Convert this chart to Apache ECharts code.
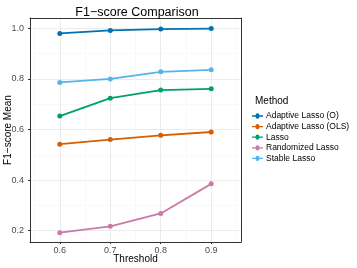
<!DOCTYPE html>
<html><head><meta charset="utf-8">
<script src="https://cdn.jsdelivr.net/npm/echarts@6/dist/echarts.min.js"></script>
<style>html,body{margin:0;padding:0;background:#fff}#c{width:357px;height:268px}</style>
</head><body><div id="c"></div>
<script>
const thresholds = [0.6, 0.7, 0.8, 0.9];
const methods = ["Adaptive Lasso (O)", "Adaptive Lasso (OLS)", "Lasso", "Randomized Lasso", "Stable Lasso"];
const adaptiveO = [0.980, 0.992, 0.997, 0.999];
const adaptiveOLS = [0.542, 0.560, 0.577, 0.590];
const lasso = [0.653, 0.724, 0.756, 0.761];
const randomized = [0.192, 0.217, 0.268, 0.385];
const stable = [0.786, 0.800, 0.828, 0.836];
const xTicks = [0.6, 0.7, 0.8, 0.9];
const xMinor = [0.55, 0.65, 0.75, 0.85, 0.95];
const yTicks = [0.2, 0.4, 0.6, 0.8, 1.0];
const yMinor = [0.3, 0.5, 0.7, 0.9];

const colors = ["#0072B2", "#D55E00", "#009E73", "#CC79A7", "#56B4E9"];
const seriesValues = [adaptiveO, adaptiveOLS, lasso, randomized, stable];
const font = "'Liberation Sans', Arial, sans-serif";

const chart = echarts.init(document.getElementById('c'), null, {renderer: 'canvas'});
const xr = [0.541, 0.959], yr = [0.155, 1.041];
const gridLine = {show: true, lineStyle: {color: '#ebebeb', width: 1}};
const minorLine = {show: true, lineStyle: {color: '#f5f5f5', width: 0.6}};
const keyIcon = 'path://M0,4.4H3.2A1.8,1.8 0 0 1 6.8,4.4H10V5.6H6.8A1.8,1.8 0 0 1 3.2,5.6H0Z';
chart.setOption({
  animation: false,
  color: colors,
  title: [
    {text: 'F1\u2212score Comparison', left: 132, textAlign: 'center', top: 1,
     textStyle: {fontFamily: font, fontSize: 12.5, fontWeight: 'normal', color: '#000'}},
    {text: 'Method', left: 250, top: 91,
     textStyle: {fontFamily: font, fontSize: 10, fontWeight: 'normal', color: '#000'}}
  ],
  legend: {
    orient: 'vertical', left: 247, top: 106, padding: 5, itemWidth: 11, itemHeight: 5.3, itemGap: 0.6,
    icon: keyIcon,
    textStyle: {fontFamily: font, fontSize: 8.5, lineHeight: 10, color: '#000', padding: [0,0,0,-2]},
    data: methods
  },
  grid: {left: 30, right: 116, top: 18, bottom: 26, show: false, containLabel: false, outerBoundsMode: 'none'},
  xAxis: [
    {type: 'value', min: xr[0], max: xr[1], gridIndex: 0,
     name: 'Threshold', nameLocation: 'middle', nameGap: 12, nameMoveOverlap: false,
     nameTextStyle: {fontFamily: font, fontSize: 10, color: '#000'},
     axisLine: {show: true, onZero: false, lineStyle: {color: '#333', width: 1}},
     axisTick: {show: true, length: 2, customValues: xTicks, lineStyle: {color: '#333'}},
     axisLabel: {customValues: xTicks, fontFamily: font, fontSize: 9, color: '#4d4d4d', margin: 4,
                 formatter: v => v.toFixed(1)},
     splitLine: gridLine},
    {type: 'value', min: xr[0], max: xr[1], position: 'top',
     axisLine: {show: true, onZero: false, lineStyle: {color: '#333', width: 1}},
     axisTick: {show: false, customValues: xMinor},
     axisLabel: {show: false, customValues: xMinor},
     splitLine: minorLine}
  ],
  yAxis: [
    {type: 'value', min: yr[0], max: yr[1],
     name: 'F1\u2212score Mean', nameLocation: 'middle', nameGap: 17, nameMoveOverlap: false,
     nameTextStyle: {fontFamily: font, fontSize: 10, color: '#000'},
     axisLine: {show: true, onZero: false, lineStyle: {color: '#333', width: 1}},
     axisTick: {show: true, length: 2, customValues: yTicks, lineStyle: {color: '#333'}},
     axisLabel: {customValues: yTicks, fontFamily: font, fontSize: 9, color: '#4d4d4d', margin: 6,
                 formatter: v => v.toFixed(1)},
     splitLine: gridLine},
    {type: 'value', min: yr[0], max: yr[1], position: 'right',
     axisLine: {show: true, onZero: false, lineStyle: {color: '#333', width: 1}},
     axisTick: {show: false, customValues: yMinor},
     axisLabel: {show: false, customValues: yMinor},
     splitLine: minorLine}
  ],
  series: methods.map((m, i) => ({
    name: m, type: 'line', xAxisIndex: 0, yAxisIndex: 0,
    data: thresholds.map((t, j) => [t, seriesValues[i][j]]),
    symbol: 'circle', symbolSize: 5,
    lineStyle: {width: 1.8, color: colors[i]},
    itemStyle: {color: colors[i]}
  }))
});
</script></body></html>
